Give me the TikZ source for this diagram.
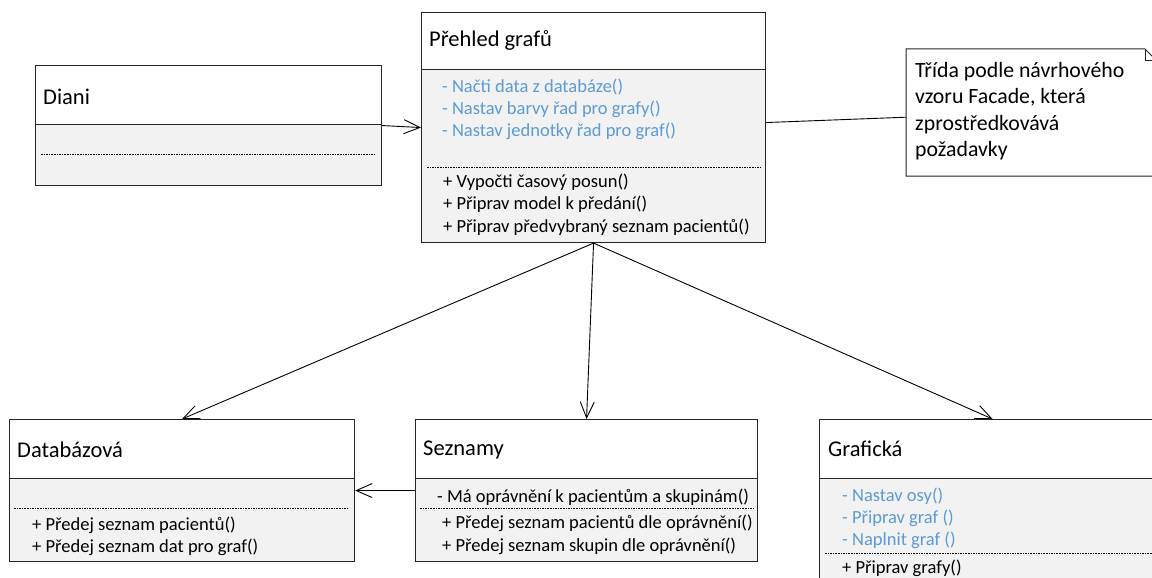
\documentclass[tikz,border=0pt]{standalone}
\usepackage{fontspec}
\setmainfont{Carlito}
\usetikzlibrary{arrows.meta}
\definecolor{compfill}{HTML}{F2F2F2}
\definecolor{privblue}{HTML}{5B9BD5}
\definecolor{edgegray}{HTML}{262626}

\begin{document}
\begin{tikzpicture}[x=1pt,y=-1pt,
  classbox/.style={draw=edgegray, line width=1.1pt, fill=none, anchor=north west, inner sep=0pt},
  compsep/.style={draw=edgegray, line width=1pt},
  dotsep/.style={draw=black, dash pattern=on 1.6pt off 1pt, line width=0.7pt},
  ctitle/.style={anchor=west, font=\fontsize{22.5}{26}\selectfont, inner sep=0pt},
  member/.style={anchor=west, font=\fontsize{18.5}{22}\selectfont, inner sep=0pt},
  priv/.style={member, text=privblue},
  notetext/.style={anchor=north west, font=\fontsize{21.8}{26.5}\selectfont, inner sep=0pt, align=left},
  assoc/.style={draw=black, line width=0.9pt, -{Straight Barb[length=16pt,width=14pt]}},
  noteline/.style={draw=black, line width=0.9pt},
]
\useasboundingbox (0,0) rectangle (1152,578);
\fill[white] (0,0) rectangle (1152,578);

% ---- Diani ----
\fill[compfill] (35,124) rectangle (381,185);
\node[classbox, minimum width=346pt, minimum height=120pt] (diani) at (35,65) {};
\draw[compsep] (35,124) -- (381,124);
\draw[dotsep] (41,154) -- (376,154);
\node[ctitle] (dianiT) at (43,97) {Diani};

% ---- Přehled grafů ----
\fill[compfill] (421,70) rectangle (765,242);
\node[classbox, minimum width=344pt, minimum height=230pt] (prehled) at (421,12) {};
\draw[compsep] (421,70) -- (765,70);
\node[ctitle] (prehledT) at (429,40) {Přehled grafů};
\node[priv] (p1) at (442,87) {- Načti data z databáze()};
\node[priv] (p2) at (442,109) {- Nastav barvy řad pro grafy()};
\node[priv] (p3) at (442,131) {- Nastav jednotky řad pro graf()};
\draw[dotsep] (427,167) -- (760,167);
\node[member] (p4) at (443,182) {+ Vypočti časový posun()};
\node[member] (p5) at (443,204) {+ Připrav model k předání()};
\node[member] (p6) at (443,227) {+ Připrav předvybraný seznam pacientů()};

% ---- Note ----
\node[anchor=north west, minimum width=254pt, minimum height=127pt, inner sep=0pt] (note) at (906,49) {};
\draw[draw=edgegray, line width=1pt, fill=white]
  (906,49) -- (1145,49) -- (1157,61) -- (1157,176) -- (906,176) -- cycle;
\draw[draw=edgegray, line width=1pt] (1145,49) -- (1145,61) -- (1157,61);
\node[notetext] (noteT) at (915,62) {Třída podle návrhového\\vzoru Facade, která\\zprostředkovává\\požadavky};

% ---- Databázová ----
\fill[compfill] (9,478) rectangle (354,561);
\node[classbox, minimum width=345pt, minimum height=142pt] (databaze) at (9,419) {};
\draw[compsep] (9,478) -- (354,478);
\node[ctitle] (databazeT) at (17,450) {Databázová};
\draw[dotsep] (14,508) -- (349,508);
\node[member] (d1) at (32,525) {+ Předej seznam pacientů()};
\node[member] (d2) at (32,547) {+ Předej seznam dat pro graf()};

% ---- Seznamy ----
\fill[compfill] (415,478) rectangle (757,561);
\node[classbox, minimum width=342pt, minimum height=142pt] (seznamy) at (415,419) {};
\draw[compsep] (415,478) -- (757,478);
\node[ctitle] (seznamyT) at (423,450) {Seznamy};
\node[member] (s1) at (437,497) {- Má oprávnění k pacientům a skupinám()};
\draw[dotsep] (420,508) -- (755,508);
\node[member] (s2) at (442,523) {+ Předej seznam pacientů dle oprávnění()};
\node[member] (s3) at (442,546) {+ Předej seznam skupin dle oprávnění()};

% ---- Grafická ----
\fill[compfill] (819,478) rectangle (1165,610);
\node[classbox, minimum width=346pt, minimum height=190pt] (graficka) at (819,419) {};
\draw[compsep] (819,478) -- (1165,478);
\node[ctitle] (grafickaT) at (828,449) {Grafická};
\node[priv] (g1) at (842,496) {- Nastav osy()};
\node[priv] (g2) at (842,518) {- Připrav graf ()};
\node[priv] (g3) at (842,540) {- Naplnit graf ()};
\draw[dotsep] (825,553) -- (1160,553);
\node[member] (g4) at (842,568) {+ Připrav grafy()};

% ---- Connectors ----
\draw[assoc] (diani.east) -- (prehled.west);
\draw[noteline] ([yshift=5pt]prehled.east) -- ([yshift=-4.5pt]note.west);
\draw[assoc] (prehled.south) -- (databaze.north);
\draw[assoc] (prehled.south) -- (seznamy.north);
\draw[assoc] (prehled.south) -- (graficka.north);
\draw[assoc] (seznamy.west) -- (databaze.east);
\end{tikzpicture}
\end{document}
